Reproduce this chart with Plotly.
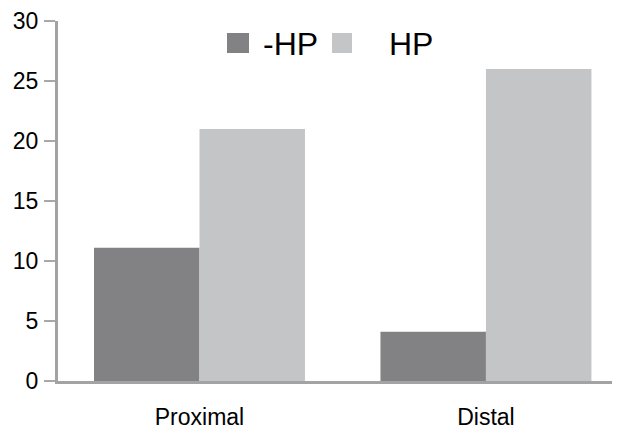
import plotly.graph_objects as go

categories = ["Proximal", "Distal"]
series_names = ["-HP", "HP"]
minus_hp = [11.1, 4.1]
hp = [21.0, 26.0]
series_values = [minus_hp, hp]
colors = ["#828284", "#c4c5c7"]
y_ticks = [0, 5, 10, 15, 20, 25, 30]

# page has an 8px body margin; compensate so the plot lands where the reference has it
OFF = 8
W, H = 620 - OFF, 429 - OFF
L, R, T, B = 58 - OFF, 0, 21 - OFF, 48
pw, ph = W - L - R, H - T - B

fig = go.Figure()
for name, vals, col in zip(series_names, series_values, colors):
    fig.add_trace(go.Bar(x=categories, y=vals, name=name, marker=dict(color=col, line=dict(width=0)),
                         showlegend=False))

FONT = "Liberation Sans, Arial, sans-serif"
fig.update_layout(
    width=W, height=H,
    margin=dict(l=L, r=R, t=T, b=B, pad=0, autoexpand=False),
    paper_bgcolor="white", plot_bgcolor="white",
    barmode="group", bargap=0.2635, bargroupgap=0,
    font=dict(family=FONT, color="black"),
    xaxis=dict(type="category", range=[-0.494, 1.468], showgrid=False, zeroline=False,
               showline=True, linecolor="#a3a3a3", linewidth=3, ticks="", automargin=False,
               tickfont=dict(size=23, family=FONT, color="black"), ticklabelstandoff=13),
    yaxis=dict(range=[0, 30], tickvals=y_ticks, showgrid=False, zeroline=False,
               showline=True, linecolor="#a3a3a3", linewidth=3, ticks="outside", automargin=False,
               ticklen=11, tickwidth=2, tickcolor="#a8a8a8",
               tickfont=dict(size=23, family=FONT, color="black"), ticklabelstandoff=1),
)

# custom legend (large swatches), positions in window pixels
PL, PB = 58, 381  # plot-area left and bottom in window pixels
sw = [(227, 249), (332, 352)]
txt_x = [261, 387]
for (x0, x1), tx, name, col in zip(sw, txt_x, series_names, colors):
    fig.add_shape(type="rect", xref="paper", yref="paper",
                  x0=(x0 - PL) / pw, x1=(x1 - PL) / pw,
                  y0=(PB - 53) / ph, y1=(PB - 33) / ph,
                  fillcolor=col, line=dict(width=0))
    fig.add_annotation(xref="paper", yref="paper", x=(tx - PL) / pw, y=(PB - 44) / ph,
                       text=name, showarrow=False, xanchor="left", yanchor="middle",
                       font=dict(size=32, family=FONT, color="black"))

fig.write_html("out.html")
